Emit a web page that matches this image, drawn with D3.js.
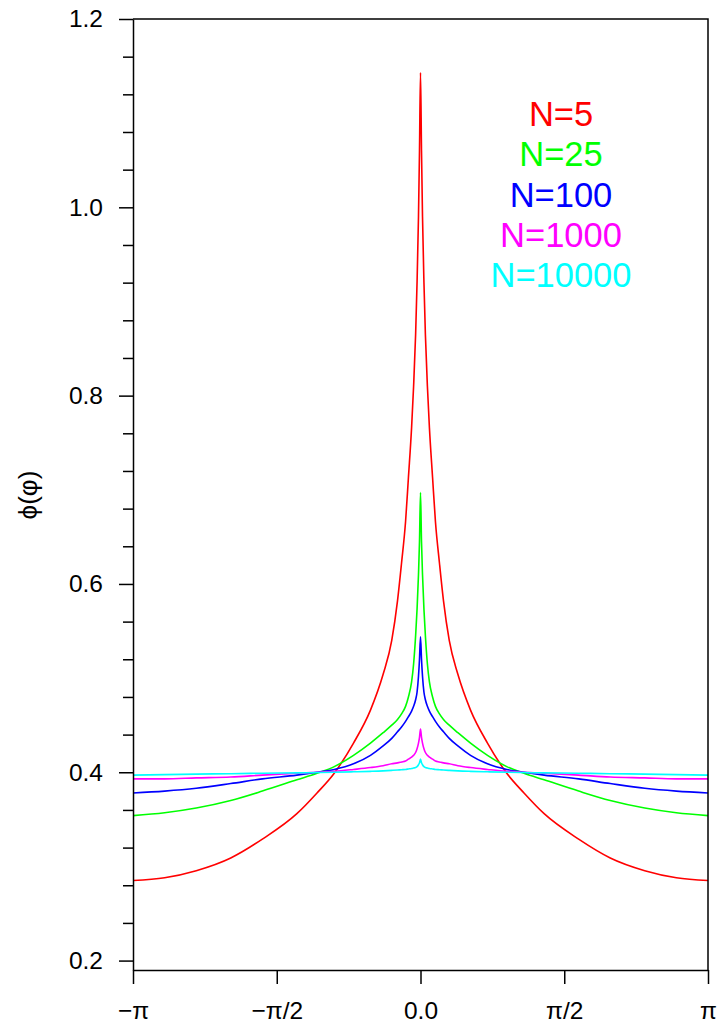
<!DOCTYPE html>
<html>
<head>
<meta charset="utf-8">
<script src="https://cdn.jsdelivr.net/npm/d3@7"></script>
<style>
  body { margin: 0; background: #fff; }
  svg { display: block; }
</style>
</head>
<body>
<div id="chart"></div>
<script>
var fontFam = "'Liberation Sans', Arial, sans-serif";

// phase grid, in units of pi
var phi = [-1, -0.89, -0.78, -0.66, -0.55, -0.43, -0.36, -0.3, -0.233, -0.174, -0.13, -0.1, -0.08, -0.066, -0.052, -0.042, -0.031, -0.024, -0.017, -0.012, -0.007, -0.0035,
            0, 0.0035, 0.007, 0.012, 0.017, 0.024, 0.031, 0.042, 0.052, 0.066, 0.08, 0.1, 0.13, 0.174, 0.233, 0.3, 0.36, 0.43, 0.55, 0.66, 0.78, 0.89, 1];

var n5 = [0.285, 0.288, 0.2955, 0.309, 0.329, 0.356, 0.378, 0.399, 0.431, 0.466, 0.504, 0.54, 0.582, 0.622, 0.666, 0.713, 0.766, 0.81, 0.865, 0.92, 0.99, 1.06,
          1.143, 1.06, 0.99, 0.92, 0.865, 0.81, 0.766, 0.713, 0.666, 0.622, 0.582, 0.54, 0.504, 0.466, 0.431, 0.399, 0.378, 0.356, 0.329, 0.309, 0.2955, 0.288, 0.285];
var n25 = [0.354, 0.357, 0.362, 0.370, 0.380, 0.392, 0.399, 0.406, 0.418, 0.431, 0.442, 0.45, 0.456, 0.462, 0.47, 0.48, 0.496, 0.515, 0.545, 0.573, 0.61, 0.645,
           0.697, 0.645, 0.61, 0.573, 0.545, 0.515, 0.496, 0.48, 0.47, 0.462, 0.456, 0.45, 0.442, 0.431, 0.418, 0.406, 0.399, 0.392, 0.380, 0.370, 0.362, 0.357, 0.354];
var n100 = [0.378, 0.380, 0.383, 0.388, 0.393, 0.397, 0.400, 0.403, 0.409, 0.418, 0.428, 0.436, 0.443, 0.448, 0.454, 0.459, 0.465, 0.470, 0.477, 0.485, 0.502, 0.52,
            0.544, 0.52, 0.502, 0.485, 0.477, 0.470, 0.465, 0.459, 0.454, 0.448, 0.443, 0.436, 0.428, 0.418, 0.409, 0.403, 0.400, 0.397, 0.393, 0.388, 0.383, 0.380, 0.378];
var n1000 = [0.393, 0.393, 0.394, 0.395, 0.397, 0.399, 0.400, 0.401, 0.403, 0.405, 0.407, 0.409, 0.410, 0.411, 0.412, 0.414, 0.416, 0.418, 0.421, 0.425, 0.431, 0.437,
             0.446, 0.437, 0.431, 0.425, 0.421, 0.418, 0.416, 0.414, 0.412, 0.411, 0.410, 0.409, 0.407, 0.405, 0.403, 0.401, 0.400, 0.399, 0.397, 0.395, 0.394, 0.393, 0.393];
var n10000 = [0.397, 0.3975, 0.398, 0.3985, 0.399, 0.3994, 0.3997, 0.400, 0.4005, 0.401, 0.4015, 0.402, 0.4024, 0.4027, 0.403, 0.4035, 0.404, 0.4045, 0.405, 0.406, 0.408, 0.410,
              0.414, 0.410, 0.408, 0.406, 0.405, 0.4045, 0.404, 0.4035, 0.403, 0.4027, 0.4024, 0.402, 0.4015, 0.401, 0.4005, 0.400, 0.3997, 0.3994, 0.399, 0.3985, 0.398, 0.3975, 0.397];

var seriesNames = ["N=5", "N=25", "N=100", "N=1000", "N=10000"];
var seriesValues = [n5, n25, n100, n1000, n10000];
var colors = ["#ff0000", "#00ff00", "#0000ff", "#ff00ff", "#00ffff"];

var yTicks = [0.2, 0.4, 0.6, 0.8, 1.0, 1.2];
var xTicks = [-Math.PI, -Math.PI / 2, 0, Math.PI / 2, Math.PI];
var xTickLabels = ["\u2212\u03c0", "\u2212\u03c0/2", "0.0", "\u03c0/2", "\u03c0"];

var width = 718, height = 1030;

var svg = d3.select("#chart")
    .append("svg")
    .attr("width", width)
    .attr("height", height)
    .style("font-family", fontFam);

var x = d3.scaleLinear().domain([-Math.PI, Math.PI]).range([133, 708]);
var y = d3.scaleLinear().domain([0.19, 1.2]).range([970, 19]);

// curves
var line = d3.line()
    .x(function (d) { return x(d[0] * Math.PI); })
    .y(function (d) { return y(d[1]); })
    .curve(d3.curveMonotoneX);

seriesValues.forEach(function (vals, i) {
    svg.append("path")
        .datum(phi.map(function (p, j) { return [p, vals[j]]; }))
        .attr("fill", "none")
        .attr("stroke", colors[i])
        .attr("stroke-width", 1.6)
        .attr("d", line);
});

// frame top / right
svg.append("path")
    .attr("d", "M" + x.range()[0] + "," + y.range()[1] + "H" + x.range()[1] + "V" + y.range()[0])
    .attr("fill", "none")
    .attr("stroke", "#000")
    .attr("stroke-width", 1.5);

// minor y ticks
var minor = d3.range(0.2, 1.2, 0.04).filter(function (v) {
    return Math.abs(v * 5 - Math.round(v * 5)) > 0.01;
});
svg.append("g")
    .attr("transform", "translate(" + x.range()[0] + ",0)")
    .call(d3.axisLeft(y).tickValues(minor).tickSize(10).tickSizeOuter(0).tickFormat(""))
    .call(function (g) { g.select(".domain").remove(); });

// y axis
svg.append("g")
    .attr("transform", "translate(" + x.range()[0] + ",0)")
    .call(d3.axisLeft(y).tickValues(yTicks).tickSize(14).tickSizeOuter(0).tickPadding(16)
        .tickFormat(d3.format(".1f")));

// x axis
svg.append("g")
    .attr("transform", "translate(0," + y.range()[0] + ")")
    .call(d3.axisBottom(x).tickValues(xTicks).tickSize(14).tickSizeOuter(0).tickPadding(18)
        .tickFormat(function (d, i) { return xTickLabels[i]; }));

svg.selectAll("g").attr("font-family", null);
svg.selectAll(".tick text")
    .style("font-family", fontFam)
    .style("font-size", "24.5px")
    .attr("fill", "#000");
svg.selectAll(".domain, .tick line").attr("stroke", "#000").attr("stroke-width", 1.5);

// y title
svg.append("text")
    .attr("transform", "translate(37,495) rotate(-90)")
    .attr("text-anchor", "middle")
    .style("font-family", fontFam)
    .style("font-size", "26px")
    .text("\u03d5(\u03c6)");

// legend
svg.selectAll(".legend")
    .data(seriesNames)
    .enter()
    .append("text")
    .attr("class", "legend")
    .attr("x", 561)
    .attr("y", function (d, i) { return 126 + i * 40.3; })
    .attr("text-anchor", "middle")
    .attr("fill", function (d, i) { return colors[i]; })
    .style("font-family", fontFam)
    .style("font-size", "34.5px")
    .text(function (d) { return d; });
</script>
</body>
</html>
